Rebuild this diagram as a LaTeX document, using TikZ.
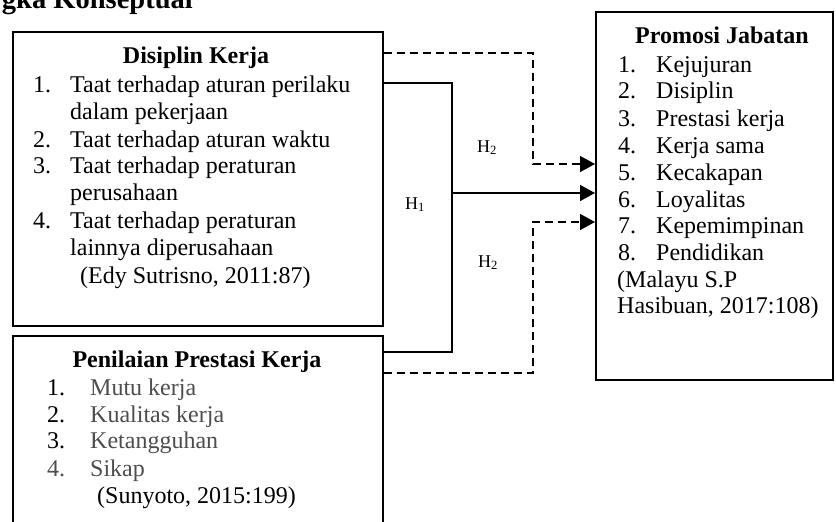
\documentclass[tikz,border=0pt]{standalone}
\usepackage{fontspec}
\setmainfont{Liberation Serif}
\usetikzlibrary{arrows.meta}
\definecolor{itemgray}{HTML}{4D4D4D}
\begin{document}
\begin{tikzpicture}[x=1pt,y=-1pt,
  box/.style={draw,line width=1.6pt,inner sep=0pt,anchor=north west},
  ln/.style={anchor=base west,inner sep=0pt,font=\fontsize{24}{27}\selectfont},
  ttl/.style={anchor=base,inner sep=0pt,font=\fontsize{24}{27}\selectfont\bfseries},
  hl/.style={anchor=base,inner sep=0pt,font=\fontsize{18}{20}\selectfont},
  conn/.style={line width=1.6pt},
  dsh/.style={line width=1.6pt,dash pattern=on 8pt off 5pt},
  tip/.style={-{Triangle[length=15pt,width=16pt]}}
]
\useasboundingbox (0,0) rectangle (836,522);
% heading (cut off at the top, as in the source)
\node[anchor=base east,inner sep=0pt,font=\fontsize{28.5}{32}\selectfont\bfseries] (head) at (193,9) {gka Konseptual};
% boxes
\node[box,minimum width=370pt,minimum height=294pt] (b1) at (12,31) {};
\node[box,minimum width=370pt,minimum height=210pt] (b2) at (12,335) {};
\node[box,minimum width=237pt,minimum height=368pt] (b3) at (595,11) {};
% box 1 text
\node[ttl] (t1) at (196,63) {Disiplin Kerja};
\node[ln] (a1) at (33,92) {\makebox[37pt][l]{1.}Taat terhadap aturan perilaku};
\node[ln] (a2) at (70,119) {dalam pekerjaan};
\node[ln] (a3) at (33,147) {\makebox[37pt][l]{2.}Taat terhadap aturan waktu};
\node[ln] (a4) at (33,173) {\makebox[37pt][l]{3.}Taat terhadap peraturan};
\node[ln] (a5) at (70,200) {perusahaan};
\node[ln] (a6) at (33,228) {\makebox[37pt][l]{4.}Taat terhadap peraturan};
\node[ln] (a7) at (70,255) {lainnya diperusahaan};
\node[ln] (a8) at (80,283) {(Edy Sutrisno, 2011:87)};
% box 2 text
\node[ttl] (t2) at (197,367) {Penilaian Prestasi Kerja};
\node[ln] (p1) at (47,395) {\makebox[43pt][l]{1.}\textcolor{itemgray}{Mutu kerja}};
\node[ln] (p2) at (47,422) {\makebox[43pt][l]{2.}\textcolor{itemgray}{Kualitas kerja}};
\node[ln] (p3) at (47,448) {\makebox[43pt][l]{3.}\textcolor{itemgray}{Ketangguhan}};
\node[ln,text=itemgray] (p4) at (47,476) {\makebox[43pt][l]{4.}Sikap};
\node[ln] (p5) at (97,503) {(Sunyoto, 2015:199)};
% box 3 text
\node[ttl] (t3) at (722,43) {Promosi Jabatan};
\node[ln] (c1) at (618,72) {\makebox[38pt][l]{1.}Kejujuran};
\node[ln] (c2) at (618,98) {\makebox[38pt][l]{2.}Disiplin};
\node[ln] (c3) at (618,126) {\makebox[38pt][l]{3.}Prestasi kerja};
\node[ln] (c4) at (618,153) {\makebox[38pt][l]{4.}Kerja sama};
\node[ln] (c5) at (618,180) {\makebox[38pt][l]{5.}Kecakapan};
\node[ln] (c6) at (618,207) {\makebox[38pt][l]{6.}Loyalitas};
\node[ln] (c7) at (618,233) {\makebox[38pt][l]{7.}Kepemimpinan};
\node[ln] (c8) at (618,260) {\makebox[38pt][l]{8.}Pendidikan};
\node[ln] (c9) at (617,287) {(Malayu S.P};
\node[ln] (c10) at (617,313) {Hasibuan, 2017:108)};
% connector corner points
\coordinate (s1) at (452,83);
\coordinate (s2) at (452,352);
\coordinate (s3) at (452,193);
\coordinate (d1) at (533,53);
\coordinate (d2) at (533,164);
\coordinate (d3) at (533,373);
\coordinate (d4) at (533,222);
% H1 (solid)
\draw[conn] (s1 -| b1.east) -- (s1) -- (s2) -- (s2 -| b2.east);
\draw[conn,tip] (s3) -- (s3 -| b3.west);
% H2 (dashed)
\draw[dsh,tip] (d1 -| b1.east) -- (d1) -- (d2) -- (d2 -| b3.west);
\draw[dsh,tip] (d3 -| b2.east) -- (d3) -- (d4) -- (d4 -| b3.west);
% labels
\node[hl] (h1) at (415,209) {H\textsubscript{1}};
\node[hl] (h2a) at (487,152) {H\textsubscript{2}};
\node[hl] (h2b) at (488,267) {H\textsubscript{2}};
\end{tikzpicture}
\end{document}
